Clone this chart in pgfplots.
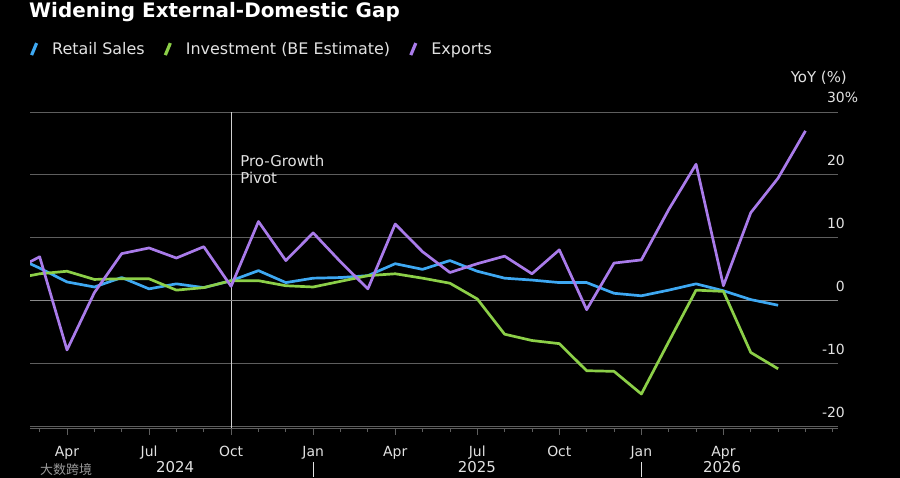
\documentclass[border=0pt]{standalone}
\usepackage{pgfplots}
\pgfplotsset{compat=1.18}
\usepackage{pgfplotstable}
\usepackage{fontspec}
\setmainfont{DejaVu Sans}
\newfontfamily\cjk{Noto Sans CJK SC}
\definecolor{txt}{HTML}{E2E2E2}
\definecolor{gridc}{HTML}{5E5E5E}
\definecolor{zeroc}{HTML}{8A8A8A}
\definecolor{vline}{HTML}{D0D0D0}
\definecolor{cBlue}{HTML}{3EA8F2}
\definecolor{cGreen}{HTML}{8CCF48}
\definecolor{cPurple}{HTML}{A97BEA}

% month index: Jan 2024 = 0
\pgfplotstableread{
m retail invest exports
1 7.2 3.45 4.7
2 5.2 4.3 7.0
3 3.0 4.7 -7.8
4 2.2 3.4 1.3
5 3.7 3.5 7.5
6 1.9 3.5 8.4
7 2.7 1.7 6.8
8 2.1 2.1 8.6
9 3.2 3.2 2.3
10 4.8 3.2 12.6
11 2.9 2.4 6.4
12 3.6 2.2 10.8
13 3.7 3.1 6.2
14 4.0 4.0 1.9
15 5.9 4.3 12.2
16 5.0 3.6 7.8
17 6.4 2.8 4.5
18 4.7 0.3 5.9
19 3.6 -5.3 7.1
20 3.3 -6.3 4.3
21 2.9 -6.8 8.1
22 2.9 -11.1 -1.4
23 1.2 -11.2 6.0
24 0.8 -14.8 6.5
25 1.7 -6.5 14.5
26 2.7 1.7 21.7
27 1.6 1.5 2.4
28 0.2 -8.2 14.0
29 -0.7 -10.8 19.5
30 nan nan 27.0
}\datatable

\begin{document}
\begin{tikzpicture}[x=1bp,y=1bp]
\fill[black] (0,0) rectangle (900,478);
\node[anchor=base west, inner sep=0, text=white, font=\bfseries\fontsize{20}{24}\selectfont] at (29,460) {Widening External-Domestic Gap};
\node[anchor=base east, inner sep=0, text=txt, font=\fontsize{15}{18}\selectfont] at (847,395) {YoY (\%)};
\begin{axis}[
  at={(30bp,50bp)}, anchor=south west,
  width=808bp, height=316bp, scale only axis,
  xmin=1.647, xmax=31.19, ymin=-20.2, ymax=30,
  axis x line*=bottom, axis y line*=right,
  axis line style={-},
  x axis line style={draw=gridc, line width=0.9bp},
  y axis line style={draw=none},
  xtick={3,6,...,27},
  xticklabels={Apr,Jul,Oct,Jan,Apr,Jul,Oct,Jan,Apr},
  minor xtick={2,...,31},
  tick align=outside,
  major tick length=7bp, minor tick length=4bp,
  xtick style={draw=gridc, line width=0.8bp},
  ytick={-20,-10,0,10,20,30},
  yticklabels={-20,-10,0,10,20,30\rlap{\%}},
  ytick style={draw=none},
  ymajorgrids, major grid style={draw=gridc, line width=0.9bp},
  xticklabel style={anchor=base, inner sep=0, yshift=-22bp, text=txt, font=\fontsize{14}{16}\selectfont},
  yticklabel style={anchor=base east, inner sep=0, yshift=9bp, text=txt, font=\fontsize{14}{16}\selectfont},
  legend columns=-1,
  legend style={at={(0,1.199)}, anchor=west, draw=none, fill=none, inner sep=0pt, outer sep=0pt,
    text=txt, font=\fontsize{16}{19}\selectfont, nodes={inner sep=0pt},
    /tikz/every odd column/.append style={column sep=14bp},
    /tikz/every even column/.append style={column sep=19bp}},
  legend image code/.code={\draw[#1, line width=3.2bp, line cap=butt] (0bp,-6bp) -- (5bp,6bp);},
  every axis plot/.append style={line width=2.7bp, line join=round},
]
\draw[vline, line width=0.9bp] (axis cs:9,-20.2) -- (axis cs:9,30);
\draw[zeroc, line width=0.9bp] (axis cs:1.647,0) -- (axis cs:31.19,0);
\node[anchor=north west, align=left, inner sep=0, text=txt, font=\fontsize{15}{16.5}\selectfont] at (axis cs:9.33,23.1) {Pro-Growth\\Pivot};
\addplot[cBlue] table[x=m, y=retail] {\datatable};
\addlegendentry{Retail Sales}
\addplot[cGreen] table[x=m, y=invest] {\datatable};
\addlegendentry{Investment (BE Estimate)}
\addplot[cPurple] table[x=m, y=exports] {\datatable};
\addlegendentry{Exports}
\coordinate (j25) at (axis cs:12,-20.2);
\coordinate (j26) at (axis cs:24,-20.2);
\coordinate (y24) at (axis cs:6.95,-20.2);
\coordinate (y25) at (axis cs:17.99,-20.2);
\coordinate (y26) at (axis cs:26.95,-20.2);
\end{axis}
\draw[txt, line width=0.8bp] ([yshift=-34bp]j25) -- ([yshift=-49bp]j25);
\draw[txt, line width=0.8bp] ([yshift=-34bp]j26) -- ([yshift=-49bp]j26);
\foreach \c/\t in {y24/2024, y25/2025, y26/2026}
  \node[anchor=base, inner sep=0, text=txt, font=\fontsize{15}{18}\selectfont] at ([yshift=-44.5bp]\c) {\t};
\node[anchor=base west, inner sep=0, text=gray!80, font=\cjk\fontsize{13}{15}\selectfont] at (40,3) {大数跨境};
\pgfresetboundingbox
\path (0,0) rectangle (900,478);
\end{tikzpicture}
\end{document}
